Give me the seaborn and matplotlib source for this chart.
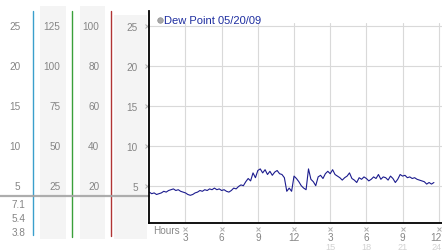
import numpy as np
import matplotlib
matplotlib.use("Agg")
import matplotlib.pyplot as plt
import seaborn as sns
from matplotlib.transforms import offset_copy

# ---------------- data ----------------
hours = np.round(np.arange(0, 23.61, 0.2), 1)
dew = [4.2, 4.0, 4.1, 3.9, 4.0,
       4.1, 4.3, 4.2, 4.4, 4.5,
       4.6, 4.4, 4.5, 4.3, 4.2,
       4.1, 3.9, 3.8, 3.9, 4.1,
       4.2, 4.4, 4.3, 4.5, 4.4,
       4.6, 4.5, 4.7, 4.5, 4.6,
       4.4, 4.5, 4.3, 4.2, 4.4,
       4.7, 4.6, 4.9, 5.1, 5.0,
       5.5, 5.9, 5.6, 6.6, 6.0,
       6.9, 7.1, 6.6, 7.0, 6.4,
       6.8, 6.3, 6.7, 6.9, 6.5,
       6.4, 6.0, 4.3, 4.7, 4.3,
       6.2, 5.9, 5.5, 5.0, 4.7,
       4.5, 7.1, 5.8, 5.5, 5.0,
       6.1, 6.3, 5.9, 6.5, 6.8,
       6.5, 7.0, 6.4, 6.2, 6.0,
       5.7, 6.0, 6.2, 6.6, 5.9,
       5.7, 5.4, 6.0, 5.8, 6.1,
       5.9, 5.6, 5.8, 6.1, 5.9,
       6.4, 5.8, 6.1, 6.0, 5.7,
       6.2, 5.9, 5.4, 5.8, 6.4,
       6.2, 6.3, 6.0, 6.1, 5.9,
       6.0, 5.8, 5.7, 5.6, 5.5,
       5.2, 5.4, 5.2, 5.4]

y_ticks = [5, 10, 15, 20, 25]
col1_labels = ["5", "10", "15", "20", "25"]
col2_labels = ["25", "50", "75", "100", "125"]
col3_labels = ["20", "40", "60", "80", "100"]
col4_labels = ["5", "10", "15", "20", "25"]
low_labels = ["7.1", "5.4", "3.8"]
x_ticks = [3, 6, 9, 12, 15, 18, 21, 24]
x_labels = ["3", "6", "9", "12", "3", "6", "9", "12"]
x_ticks2 = [15, 18, 21, 24]
x_labels2 = ["15", "18", "21", "24"]
title = "Dew Point 05/20/09"

# ---------------- style ----------------
sns.set_style("white")
plt.rcParams['font.family'] = ['Liberation Sans', 'DejaVu Sans']
fs = 7.2
lab_col = "#858585"

W, H = 442, 253
fig = plt.figure(figsize=(W / 100, H / 100), dpi=100)

Y0, PPU = 226.7, 8.0      # pixel row of value 0, pixels per unit
X0, PPH = 149.3, 12.06    # pixel column of hour 0, pixels per hour


def vy(ypix):
    return (Y0 - ypix) / PPU


def vx(xpix):
    return (xpix - X0) / PPH


bot_pix, top_pix = 224.3, 24.0
ax_pos = [X0 / W, (H - bot_pix) / H, (W - X0) / W, (bot_pix - top_pix) / H]
ylim = (vy(bot_pix), vy(top_pix))
xlim = (0, vx(W))

# ---------------- left scale panels (drawn underneath) ----------------
axL = fig.add_axes([0, ax_pos[1], X0 / W, ax_pos[3]])
axL.set_zorder(0)
axL.set_xlim(0, X0)
axL.set_ylim(*ylim)
axL.axis("off")

band_col = "#f4f4f4"
axL.fill_between([40, 66], vy(240), vy(7), color=band_col, lw=0, clip_on=False, zorder=0)
axL.fill_between([80, 105], vy(240), vy(7), color=band_col, lw=0, clip_on=False, zorder=0)
axL.fill_between([114, 147], vy(240), vy(16), color=band_col, lw=0, clip_on=False, zorder=0)

axL.plot([33, 33], [vy(236), vy(12)], color="#3a9fcc", lw=1.0, clip_on=False, zorder=1)
axL.plot([72.5, 72.5], [vy(238), vy(12)], color="#3aa03a", lw=1.0, clip_on=False, zorder=1)
axL.plot([111, 111], [vy(237), vy(12)], color="#b03434", lw=1.0, clip_on=False, zorder=1)
axL.plot([0, X0], [vy(196.6), vy(196.6)], color="#a4a4a4", lw=1.6, alpha=0.9,
         clip_on=False, zorder=2)

for v, a, b, c in zip(y_ticks, col1_labels, col2_labels, col3_labels):
    axL.text(20.5, v, a, ha="right", va="center", fontsize=fs, color=lab_col)
    axL.text(60.5, v, b, ha="right", va="center", fontsize=fs, color=lab_col)
    axL.text(99.5, v, c, ha="right", va="center", fontsize=fs, color=lab_col)

for ypix, lab in zip([205, 219, 232.7], low_labels):
    axL.text(25.5, vy(ypix), lab, ha="right", va="center", fontsize=fs,
             color=lab_col, clip_on=False)

# ---------------- main plot ----------------
ax = fig.add_axes(ax_pos)
ax.set_zorder(1)
ax.patch.set_alpha(0)
sns.lineplot(x=hours, y=dew, ax=ax, color="#1c1c8e", linewidth=0.8)
ax.set_xlim(*xlim)
ax.set_ylim(*ylim)
ax.set_xticks(x_ticks)
ax.set_xticklabels(x_labels[:-1] + [""])
ax.set_yticks(y_ticks)
ax.set_yticklabels(col4_labels)
ax.grid(True, color="#d9d9d9", linewidth=0.8)
ax.set_axisbelow(True)
for s in ["top", "right"]:
    ax.spines[s].set_visible(False)
for s in ["left", "bottom"]:
    ax.spines[s].set_color("black")
    ax.spines[s].set_linewidth(1.3)
ax.spines["left"].set_bounds(ylim[0], vy(12))
ax.tick_params(axis="y", length=0, pad=8.3, labelsize=fs, labelcolor=lab_col)
ax.tick_params(axis="x", length=0, pad=6.6, labelsize=fs, labelcolor=lab_col)
ax.set_xlabel("")
ax.set_ylabel("")

# last hour labels kept inside the picture
ax.text(vx(441.8), vy(238.3), x_labels[-1], ha="right", va="center",
        fontsize=fs, color=lab_col, clip_on=False)

# small tick marks
tr_y = offset_copy(ax.get_yaxis_transform(), fig=fig, x=-2.8, y=0, units="dots")
ax.plot([0] * len(y_ticks), y_ticks, transform=tr_y, ls="none", marker="x",
        ms=2.3, mew=0.7, color="#b0b0b0", clip_on=False)
tr_x = offset_copy(ax.get_xaxis_transform(), fig=fig, x=0, y=-6.0, units="dots")
ax.plot(x_ticks, [0] * len(x_ticks), transform=tr_x, ls="none", marker="x",
        ms=2.3, mew=0.7, color="#b0b0b0", clip_on=False)

# second row of hour labels
for xt, lab in zip(x_ticks2, x_labels2):
    if xt == x_ticks2[-1]:
        ax.text(vx(441.8), vy(247.5), lab, ha="right", va="center", fontsize=6.6,
                color="#d2d2d2", clip_on=False)
    else:
        ax.text(xt, vy(247.5), lab, ha="center", va="center", fontsize=6.6,
                color="#d2d2d2", clip_on=False)
ax.text(vx(153), vy(231.5), "Hours", ha="left", va="center", fontsize=fs,
        color="#888888", clip_on=False)

# title with marker
ax.plot([vx(160.3)], [vy(21)], marker="o", ms=4, color="#a8a8a8",
        mec="#909090", mew=0.5, clip_on=False)
ax.text(vx(164.5), vy(21), title, ha="left", va="center", fontsize=8.0,
        color="#1e2ea0", clip_on=False)

fig.savefig("out.png", dpi=100)
